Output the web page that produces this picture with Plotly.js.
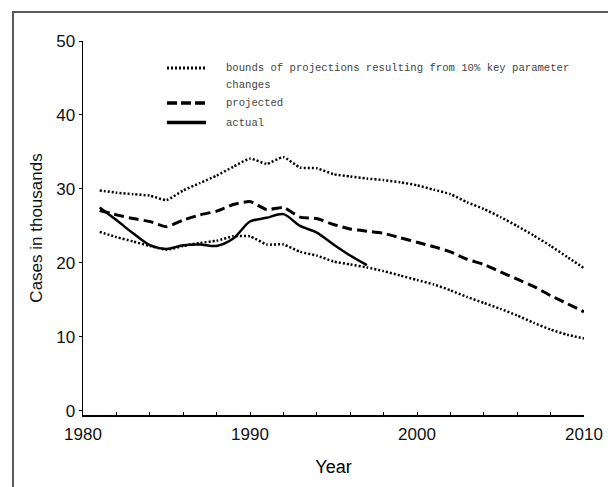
<!DOCTYPE html>
<html>
<head>
<meta charset="utf-8">
<script src="https://cdn.plot.ly/plotly-3.0.1.min.js"></script>
<style>
  html, body { margin: 0; padding: 0; background: #fff; }
  #wrap { position: relative; width: 608px; height: 487px; overflow: hidden; }
  #chart { position: absolute; left: 0; top: 0; width: 608px; height: 487px; }
  #frame { position: absolute; left: 12px; top: 11px; width: 620px; height: 500px;
           border-top: 2px solid #5a5a5a; border-left: 2px solid #5a5a5a; pointer-events: none; }
</style>
</head>
<body>
<div id="wrap">
  <div id="chart"></div>
  <div id="frame"></div>
</div>
<script>
// ---- data (thousands of cases) ----
var years = [1981,1982,1983,1984,1985,1986,1987,1988,1989,1990,
             1991,1992,1993,1994,1995,1996,1997,1998,1999,2000,
             2001,2002,2003,2004,2005,2006,2007,2008,2009,2010];
var upperBound = [29.8,29.5,29.3,29.1,28.5,29.8,30.8,31.8,33.0,34.1,
                  33.4,34.3,32.9,32.8,32.0,31.7,31.4,31.2,30.9,30.5,
                  29.9,29.3,28.2,27.3,26.2,25.0,23.7,22.3,20.8,19.3];
var projected = [27.1,26.5,26.0,25.6,24.9,25.8,26.5,27.0,27.9,28.3,
                 27.2,27.5,26.2,26.0,25.2,24.6,24.3,24.0,23.4,22.8,
                 22.2,21.5,20.5,19.8,18.8,17.8,16.8,15.6,14.5,13.4];
var lowerBound = [24.2,23.5,22.9,22.3,21.8,22.3,22.7,23.0,23.6,23.6,
                  22.5,22.5,21.5,21.0,20.2,19.8,19.4,18.9,18.3,17.7,
                  17.1,16.3,15.4,14.6,13.8,12.9,11.9,11.0,10.3,9.8];
var actualYears = [1981,1982,1983,1984,1985,1986,1987,1988,1989,1990,
                   1991,1992,1993,1994,1995,1996,1997];
var actual = [27.5,25.8,24.0,22.4,21.9,22.4,22.5,22.3,23.3,25.6,
              26.1,26.6,25.0,24.1,22.5,21.0,19.7];
var xTickVals = [1980,1990,2000,2010];
var yTickVals = [0,10,20,30,40,50];
var legendLabels = ["bounds of projections resulting from 10% key parameter",
                    "changes", "projected", "actual"];

// ---- styles ----
var DOT = "2px,2px";
var DASH = "10px,5px";
var W = 608, H = 487;
var M = {l: 83, r: 24, t: 41, b: 72};
function px2x(px) { return (px - M.l) / (W - M.l - M.r); }
function px2y(py) { return (H - M.b - py) / (H - M.t - M.b); }

var traces = [
  {x: years, y: upperBound, mode: 'lines', showlegend: false, hoverinfo: 'skip',
   line: {color: '#000', width: 2.5, dash: DOT, shape: 'spline', smoothing: 0.5}},
  {x: years, y: lowerBound, mode: 'lines', showlegend: false, hoverinfo: 'skip',
   line: {color: '#000', width: 2.5, dash: DOT, shape: 'spline', smoothing: 0.5}},
  {x: years, y: projected, mode: 'lines', showlegend: false, hoverinfo: 'skip',
   line: {color: '#000', width: 3, dash: DASH, shape: 'spline', smoothing: 0.5}},
  {x: actualYears, y: actual, mode: 'lines', showlegend: false, hoverinfo: 'skip',
   line: {color: '#000', width: 2.5, shape: 'spline', smoothing: 0.8}}
];

var legFont = {family: '"Liberation Mono", "DejaVu Sans Mono", monospace', size: 10.6, color: '#444'};
var rows = [68, 85, 103, 122.5];
var shapes = [
  {type: 'line', xref: 'paper', yref: 'paper', x0: px2x(167), x1: px2x(206), y0: px2y(rows[0]), y1: px2y(rows[0]),
   line: {color: '#000', width: 3, dash: DOT}},
  {type: 'line', xref: 'paper', yref: 'paper', x0: px2x(167), x1: px2x(206), y0: px2y(rows[2]), y1: px2y(rows[2]),
   line: {color: '#000', width: 3.5, dash: "10px,4px"}},
  {type: 'line', xref: 'paper', yref: 'paper', x0: px2x(167), x1: px2x(206), y0: px2y(rows[3]), y1: px2y(rows[3]),
   line: {color: '#000', width: 3.5}}
];
var annotations = legendLabels.map(function (t, i) {
  return {text: t, xref: 'paper', yref: 'paper', x: px2x(224), y: px2y(rows[i]),
          xanchor: 'left', yanchor: 'middle', showarrow: false, font: legFont};
});

var tickFont = {family: '"Liberation Sans", Arial, sans-serif', size: 17, color: '#111'};
var titleFont = {family: '"Liberation Sans", Arial, sans-serif', size: 18, color: '#000'};
var layout = {
  width: W, height: H,
  margin: M,
  paper_bgcolor: 'rgba(0,0,0,0)', plot_bgcolor: 'rgba(0,0,0,0)',
  showlegend: false,
  xaxis: {
    range: [1980, 2010], tickvals: xTickVals, ticktext: xTickVals.map(String),
    showgrid: false, zeroline: false, showline: true, linecolor: '#000', linewidth: 1.5,
    ticks: 'inside', ticklen: 3, tickcolor: '#000', tickwidth: 1,
    ticklabelstandoff: 3,
    minor: {dtick: 2, tick0: 1980, ticks: 'inside', ticklen: 3, tickcolor: '#000', showgrid: false},
    tickfont: tickFont,
    title: {text: 'Year', font: titleFont, standoff: 17}
  },
  yaxis: {
    range: [-0.55, 50], tickvals: yTickVals, ticktext: yTickVals.map(String),
    showgrid: false, zeroline: false, showline: true, linecolor: '#000', linewidth: 1.5,
    ticks: 'outside', ticklen: 3, tickcolor: '#000', tickwidth: 1,
    tickfont: tickFont,
    title: {text: 'Cases in thousands', font: tickFont, standoff: 9}
  },
  shapes: shapes,
  annotations: annotations
};

Plotly.newPlot('chart', traces, layout, {staticPlot: true, displayModeBar: false});
</script>
</body>
</html>
